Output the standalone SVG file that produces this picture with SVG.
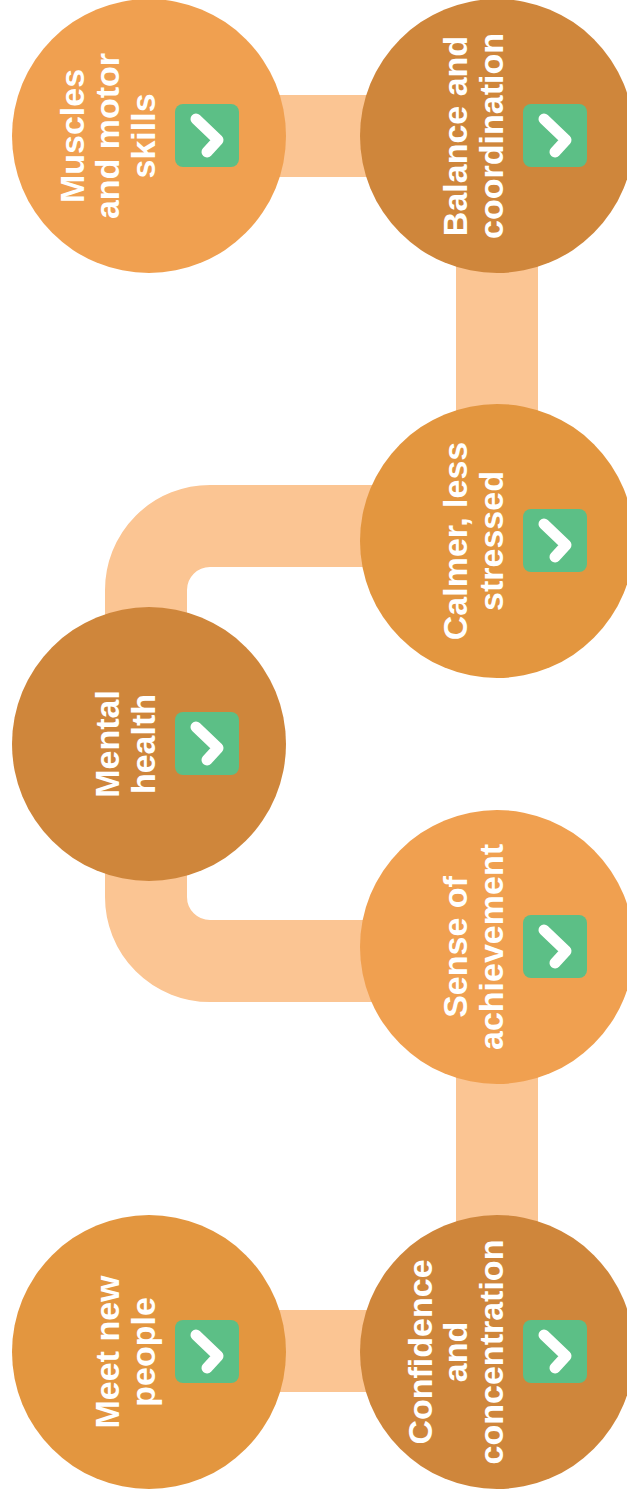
<svg xmlns="http://www.w3.org/2000/svg" xmlns:xlink="http://www.w3.org/1999/xlink" width="627" height="1494" viewBox="0 0 627 1494">
  <style>
    .band { fill: none; stroke: #FBC593; stroke-width: 82; }
    .light { fill: #F0A050; }
    .mid { fill: #E3963F; }
    .dark { fill: #CF863B; }
    .lbl { font-family: "Liberation Sans", Arial, sans-serif; font-weight: bold; font-size: 34px; fill: #FFFFFF; text-anchor: middle; }
  </style>
  <defs>
    <g id="icon">
      <rect x="0" y="0" width="64" height="63" rx="8" fill="#5CBF86"/>
      <polyline points="21,15 43,36 32,48" fill="none" stroke="#FFFFFF" stroke-width="11" stroke-linecap="round" stroke-linejoin="round"/>
    </g>
  </defs>
  <rect x="0" y="0" width="627" height="1494" fill="#FFFFFF"/>
  <g id="connectors">
    <path class="band" d="M 149 136 H 497"/>
    <path class="band" d="M 497 136 V 541"/>
    <path class="band" d="M 497 526 H 210 A 64 64 0 0 0 146 590 V 744"/>
    <path class="band" d="M 146 744 V 897 A 64 64 0 0 0 210 961 H 497"/>
    <path class="band" d="M 497 947 V 1352"/>
    <path class="band" d="M 149 1351 H 497"/>
  </g>
  <g id="muscles">
    <circle class="light" cx="149" cy="136" r="137"/>
    <g transform="translate(149,136) rotate(-90)">
      <text class="lbl" x="0" y="-65.5">Muscles</text>
      <text class="lbl" x="0" y="-30">and motor</text>
      <text class="lbl" x="0" y="5.5">skills</text>
    </g>
    <use xlink:href="#icon" href="#icon" x="175" y="104"/>
  </g>
  <g id="balance">
    <circle class="dark" cx="497" cy="136" r="137"/>
    <g transform="translate(497,136) rotate(-90)">
      <text class="lbl" x="0" y="-30">Balance and</text>
      <text class="lbl" x="0" y="5.5">coordination</text>
    </g>
    <use xlink:href="#icon" href="#icon" x="523" y="104"/>
  </g>
  <g id="calmer">
    <circle class="mid" cx="497" cy="541" r="137"/>
    <g transform="translate(497,541) rotate(-90)">
      <text class="lbl" x="0" y="-30">Calmer, less</text>
      <text class="lbl" x="0" y="5.5">stressed</text>
    </g>
    <use xlink:href="#icon" href="#icon" x="523" y="509"/>
  </g>
  <g id="mental">
    <circle class="dark" cx="149" cy="744" r="137"/>
    <g transform="translate(149,744) rotate(-90)">
      <text class="lbl" x="0" y="-30">Mental</text>
      <text class="lbl" x="0" y="5.5">health</text>
    </g>
    <use xlink:href="#icon" href="#icon" x="175" y="712"/>
  </g>
  <g id="achievement">
    <circle class="light" cx="497" cy="947" r="137"/>
    <g transform="translate(497,947) rotate(-90)">
      <text class="lbl" x="0" y="-30">Sense of</text>
      <text class="lbl" x="0" y="5.5">achievement</text>
    </g>
    <use xlink:href="#icon" href="#icon" x="523" y="915"/>
  </g>
  <g id="meet">
    <circle class="mid" cx="149" cy="1352" r="137"/>
    <g transform="translate(149,1352) rotate(-90)">
      <text class="lbl" x="0" y="-30">Meet new</text>
      <text class="lbl" x="0" y="5.5">people</text>
    </g>
    <use xlink:href="#icon" href="#icon" x="175" y="1320"/>
  </g>
  <g id="confidence">
    <circle class="dark" cx="497" cy="1352" r="137"/>
    <g transform="translate(497,1352) rotate(-90)">
      <text class="lbl" x="0" y="-65.5">Confidence</text>
      <text class="lbl" x="0" y="-30">and</text>
      <text class="lbl" x="0" y="5.5">concentration</text>
    </g>
    <use xlink:href="#icon" href="#icon" x="523" y="1320"/>
  </g>
</svg>
